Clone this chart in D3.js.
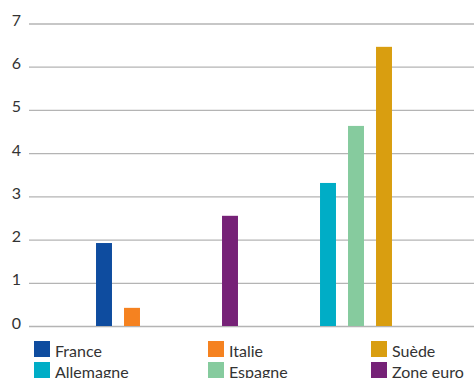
<!DOCTYPE html>
<html>
<head>
<meta charset="utf-8">
<script src="https://cdn.jsdelivr.net/npm/d3@7"></script>
<style>
  html, body { margin: 0; padding: 0; background: #fff; }
  svg { display: block; font-family: Lato, "Open Sans", sans-serif; }
</style>
</head>
<body>
<svg id="chart" width="474" height="378"></svg>
<script>
// Series (legend order, row by row)
const seriesNames = ["France", "Italie", "Suède", "Allemagne", "Espagne", "Zone euro"];
const seriesValues = [1.92, 0.42, 6.46, 3.31, 4.63, 2.55];
const seriesColors = ["#0e4c9f", "#f58220", "#d99e10", "#00adc6", "#86cb9e", "#762277"];

// Three groups of three slots; each slot holds a series name or is empty
const groups = ["g1", "g2", "g3"];
const groupSlots = [
  [null, "France", "Italie"],
  [null, "Zone euro", null],
  ["Allemagne", "Espagne", "Suède"]
];
const yTicks = [0, 1, 2, 3, 4, 5, 6, 7];

const svg = d3.select("#chart");
const W = 474;
const gridLeft = 29;

const y = d3.scaleLinear().domain([0, 7]).range([326, 23.5]);
const x0 = d3.scaleBand().domain(groups).range([41, 419]);
const x1 = d3.scaleBand().domain([0, 1, 2])
  .range([21, 105]).paddingInner(0.43).paddingOuter(0.215);

const valueOf = new Map(seriesNames.map((n, i) => [n, seriesValues[i]]));
const colorOf = d3.scaleOrdinal().domain(seriesNames).range(seriesColors);

// Gridlines and tick labels
const yAxis = d3.axisLeft(y).tickValues(yTicks).tickFormat(d3.format("d"))
  .tickSize(-(W - gridLeft)).tickPadding(8);
const ga = svg.append("g").attr("transform", `translate(${gridLeft},0)`).call(yAxis);
ga.select(".domain").remove();
ga.selectAll(".tick line").attr("stroke", "#b4b4b4").attr("stroke-width", 1.3);
ga.selectAll(".tick text")
  .attr("fill", "#333").attr("font-size", 16).attr("dy", 2)
  .attr("font-family", "Lato, 'Open Sans', sans-serif");

// Bars
const bars = [];
groupSlots.forEach((slots, gi) => slots.forEach((name, si) => {
  if (name) bars.push({ group: groups[gi], slot: si, name, value: valueOf.get(name) });
}));

svg.append("g").selectAll("rect").data(bars).join("rect")
  .attr("x", d => x0(d.group) + x1(d.slot))
  .attr("width", x1.bandwidth())
  .attr("y", d => y(d.value))
  .attr("height", d => y(0) - y(d.value))
  .attr("fill", d => colorOf(d.name));

// Legend: three columns, two rows
const legCols = [34, 208, 371];
const legRows = [341, 362];
const leg = svg.append("g").selectAll("g").data(seriesNames).join("g")
  .attr("transform", (d, i) => `translate(${legCols[i % 3]},${legRows[Math.floor(i / 3)]})`);
leg.append("rect").attr("width", 16).attr("height", 16).attr("fill", d => colorOf(d));
leg.append("text").attr("x", 21).attr("y", 15.5)
  .attr("fill", "#333").attr("font-size", 16).text(d => d);
</script>
</body>
</html>
